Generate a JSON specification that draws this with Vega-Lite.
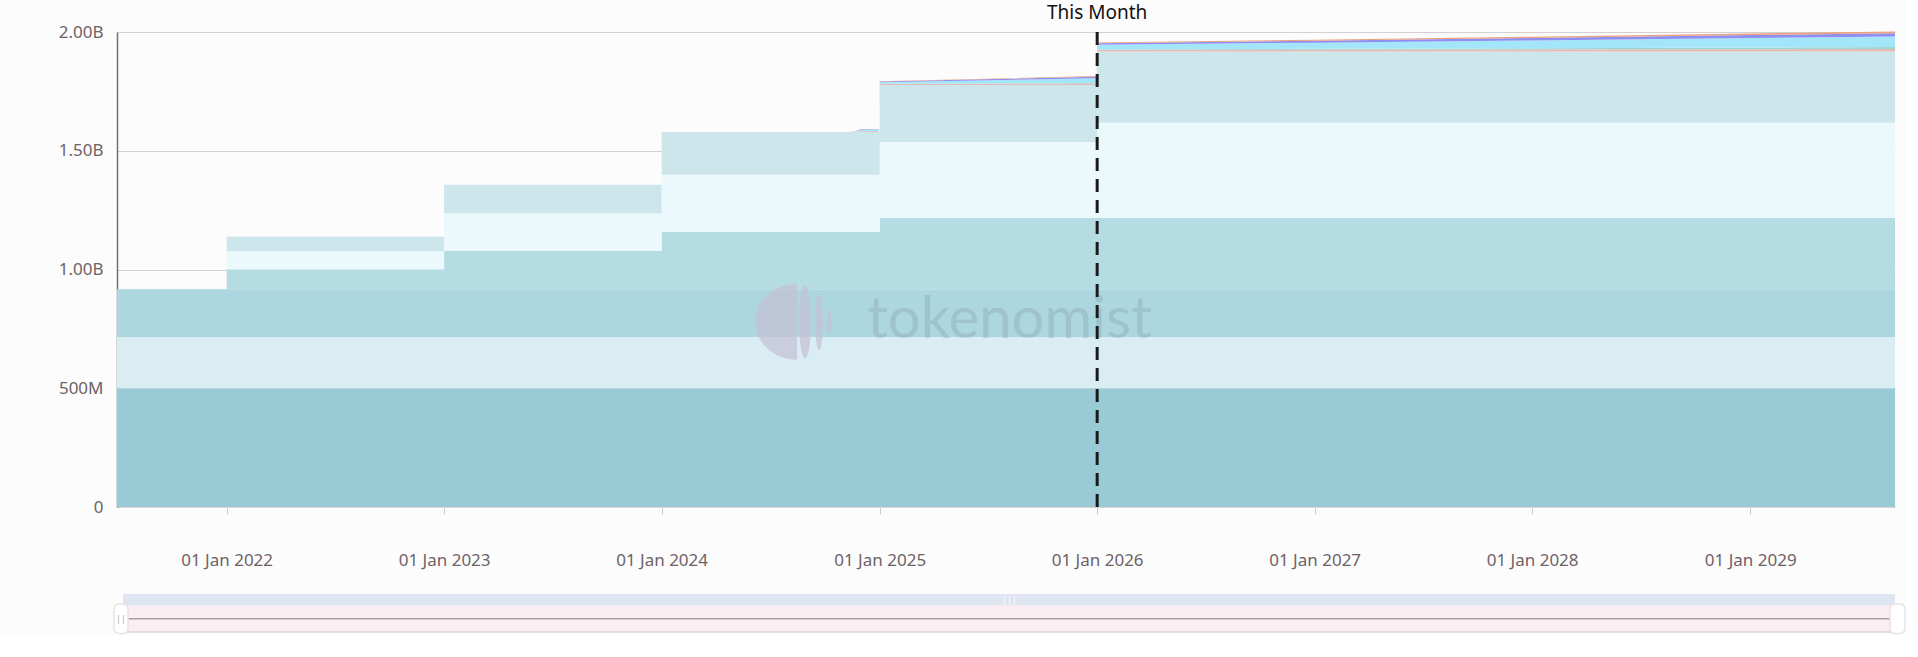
{
  "$schema": "https://vega.github.io/schema/vega-lite/v6.json",
  "background": "#FCFCFC",
  "padding": {"left": 17, "top": 4, "right": 0, "bottom": 0},
  "spacing": 87,
  "bounds": "flush",
  "config": {
    "view": {"stroke": null},
    "font": "Noto Sans",
    "axisX": {
      "labelFont": "Noto Sans", "labelFontSize": 17, "labelColor": "#6E6266",
      "labelExpr": "utcFormat(datum.value, '%d %b %Y')",
      "labelPadding": 38, "tickSize": 7, "tickColor": "#CCCCCC",
      "domainColor": "#D6D6D6", "grid": false, "labelFlush": false, "labelOverlap": false, "zindex": 1
    },
    "axisY": {
      "labelFont": "Noto Sans", "labelFontSize": 17, "labelColor": "#6E6266",
      "labelPadding": 14, "ticks": false,
      "domainColor": "#6E7079", "domainWidth": 1.5,
      "grid": true, "gridColor": "#8C7F88", "gridOpacity": 0.35, "gridWidth": 1,
      "zindex": 1, "minExtent": 100, "maxExtent": 100
    }
  },
  "datasets": {
    "main": [
      {"date": "2021-07-01", "series": "A", "ord": 1, "value": 500},
      {"date": "2022-01-01", "series": "A", "ord": 1, "value": 500},
      {"date": "2023-01-01", "series": "A", "ord": 1, "value": 500},
      {"date": "2024-01-01", "series": "A", "ord": 1, "value": 500},
      {"date": "2025-01-01", "series": "A", "ord": 1, "value": 500},
      {"date": "2026-01-01", "series": "A", "ord": 1, "value": 500},
      {"date": "2029-09-01", "series": "A", "ord": 1, "value": 500},
      {"date": "2021-07-01", "series": "B", "ord": 2, "value": 216},
      {"date": "2022-01-01", "series": "B", "ord": 2, "value": 216},
      {"date": "2023-01-01", "series": "B", "ord": 2, "value": 216},
      {"date": "2024-01-01", "series": "B", "ord": 2, "value": 216},
      {"date": "2025-01-01", "series": "B", "ord": 2, "value": 216},
      {"date": "2026-01-01", "series": "B", "ord": 2, "value": 216},
      {"date": "2029-09-01", "series": "B", "ord": 2, "value": 216},
      {"date": "2021-07-01", "series": "C", "ord": 3, "value": 200.6},
      {"date": "2022-01-01", "series": "C", "ord": 3, "value": 200.6},
      {"date": "2023-01-01", "series": "C", "ord": 3, "value": 200.6},
      {"date": "2024-01-01", "series": "C", "ord": 3, "value": 200.6},
      {"date": "2025-01-01", "series": "C", "ord": 3, "value": 200.6},
      {"date": "2026-01-01", "series": "C", "ord": 3, "value": 200.6},
      {"date": "2029-09-01", "series": "C", "ord": 3, "value": 200.6},
      {"date": "2021-07-01", "series": "D", "ord": 4, "value": 0},
      {"date": "2022-01-01", "series": "D", "ord": 4, "value": 84},
      {"date": "2023-01-01", "series": "D", "ord": 4, "value": 161},
      {"date": "2024-01-01", "series": "D", "ord": 4, "value": 241},
      {"date": "2025-01-01", "series": "D", "ord": 4, "value": 300},
      {"date": "2026-01-01", "series": "D", "ord": 4, "value": 300},
      {"date": "2029-09-01", "series": "D", "ord": 4, "value": 300},
      {"date": "2021-07-01", "series": "E", "ord": 5, "value": 0},
      {"date": "2022-01-01", "series": "E", "ord": 5, "value": 77},
      {"date": "2023-01-01", "series": "E", "ord": 5, "value": 159},
      {"date": "2024-01-01", "series": "E", "ord": 5, "value": 241},
      {"date": "2025-01-01", "series": "E", "ord": 5, "value": 320},
      {"date": "2026-01-01", "series": "E", "ord": 5, "value": 401},
      {"date": "2029-09-01", "series": "E", "ord": 5, "value": 401},
      {"date": "2021-07-01", "series": "F", "ord": 6, "value": 0},
      {"date": "2022-01-01", "series": "F", "ord": 6, "value": 60},
      {"date": "2023-01-01", "series": "F", "ord": 6, "value": 120},
      {"date": "2024-01-01", "series": "F", "ord": 6, "value": 180},
      {"date": "2025-01-01", "series": "F", "ord": 6, "value": 240},
      {"date": "2026-01-01", "series": "F", "ord": 6, "value": 300},
      {"date": "2029-09-01", "series": "F", "ord": 6, "value": 300}
    ],
    "vest": [
      {"date": "2024-11-10", "series": "base", "ord": 0, "value": 1578.6},
      {"date": "2024-11-20", "series": "base", "ord": 0, "value": 1578.6},
      {"date": "2024-12-01", "series": "base", "ord": 0, "value": 1578.6},
      {"date": "2024-12-31", "series": "base", "ord": 0, "value": 1578.6},
      {"date": "2025-01-01", "series": "base", "ord": 0, "value": 1776.6},
      {"date": "2025-12-31", "series": "base", "ord": 0, "value": 1776.6},
      {"date": "2026-01-01", "series": "base", "ord": 0, "value": 1917.6},
      {"date": "2027-01-01", "series": "base", "ord": 0, "value": 1917.6},
      {"date": "2028-01-01", "series": "base", "ord": 0, "value": 1917.6},
      {"date": "2029-01-01", "series": "base", "ord": 0, "value": 1917.6},
      {"date": "2029-09-01", "series": "base", "ord": 0, "value": 1917.6},
      {"date": "2024-11-10", "series": "G", "ord": 1, "value": 0},
      {"date": "2024-11-20", "series": "G", "ord": 1, "value": 2},
      {"date": "2024-12-01", "series": "G", "ord": 1, "value": 4},
      {"date": "2024-12-31", "series": "G", "ord": 1, "value": 4},
      {"date": "2025-01-01", "series": "G", "ord": 1, "value": 4},
      {"date": "2025-12-31", "series": "G", "ord": 1, "value": 7},
      {"date": "2026-01-01", "series": "G", "ord": 1, "value": 7},
      {"date": "2027-01-01", "series": "G", "ord": 1, "value": 8},
      {"date": "2028-01-01", "series": "G", "ord": 1, "value": 9},
      {"date": "2029-01-01", "series": "G", "ord": 1, "value": 10},
      {"date": "2029-09-01", "series": "G", "ord": 1, "value": 11},
      {"date": "2024-11-10", "series": "H", "ord": 2, "value": 0},
      {"date": "2024-11-20", "series": "H", "ord": 2, "value": 0},
      {"date": "2024-12-01", "series": "H", "ord": 2, "value": 1},
      {"date": "2024-12-31", "series": "H", "ord": 2, "value": 1},
      {"date": "2025-01-01", "series": "H", "ord": 2, "value": 1},
      {"date": "2025-12-31", "series": "H", "ord": 2, "value": 2},
      {"date": "2026-01-01", "series": "H", "ord": 2, "value": 2},
      {"date": "2027-01-01", "series": "H", "ord": 2, "value": 3.5},
      {"date": "2028-01-01", "series": "H", "ord": 2, "value": 5},
      {"date": "2029-01-01", "series": "H", "ord": 2, "value": 7},
      {"date": "2029-09-01", "series": "H", "ord": 2, "value": 8},
      {"date": "2024-11-10", "series": "J", "ord": 3, "value": 0},
      {"date": "2024-11-20", "series": "J", "ord": 3, "value": 1},
      {"date": "2024-12-01", "series": "J", "ord": 3, "value": 5},
      {"date": "2024-12-31", "series": "J", "ord": 3, "value": 6},
      {"date": "2025-01-01", "series": "J", "ord": 3, "value": 7},
      {"date": "2025-12-31", "series": "J", "ord": 3, "value": 20},
      {"date": "2026-01-01", "series": "J", "ord": 3, "value": 20},
      {"date": "2027-01-01", "series": "J", "ord": 3, "value": 26},
      {"date": "2028-01-01", "series": "J", "ord": 3, "value": 33},
      {"date": "2029-01-01", "series": "J", "ord": 3, "value": 40},
      {"date": "2029-09-01", "series": "J", "ord": 3, "value": 44},
      {"date": "2024-11-10", "series": "K", "ord": 4, "value": 0},
      {"date": "2024-11-20", "series": "K", "ord": 4, "value": 1},
      {"date": "2024-12-01", "series": "K", "ord": 4, "value": 2},
      {"date": "2024-12-31", "series": "K", "ord": 4, "value": 2},
      {"date": "2025-01-01", "series": "K", "ord": 4, "value": 3},
      {"date": "2025-12-31", "series": "K", "ord": 4, "value": 6},
      {"date": "2026-01-01", "series": "K", "ord": 4, "value": 6},
      {"date": "2027-01-01", "series": "K", "ord": 4, "value": 8},
      {"date": "2028-01-01", "series": "K", "ord": 4, "value": 10},
      {"date": "2029-01-01", "series": "K", "ord": 4, "value": 12.5},
      {"date": "2029-09-01", "series": "K", "ord": 4, "value": 14},
      {"date": "2024-11-10", "series": "L", "ord": 5, "value": 0},
      {"date": "2024-11-20", "series": "L", "ord": 5, "value": 0},
      {"date": "2024-12-01", "series": "L", "ord": 5, "value": 1},
      {"date": "2024-12-31", "series": "L", "ord": 5, "value": 1},
      {"date": "2025-01-01", "series": "L", "ord": 5, "value": 1},
      {"date": "2025-12-31", "series": "L", "ord": 5, "value": 3},
      {"date": "2026-01-01", "series": "L", "ord": 5, "value": 3},
      {"date": "2027-01-01", "series": "L", "ord": 5, "value": 4},
      {"date": "2028-01-01", "series": "L", "ord": 5, "value": 5.5},
      {"date": "2029-01-01", "series": "L", "ord": 5, "value": 7},
      {"date": "2029-09-01", "series": "L", "ord": 5, "value": 8}
    ]
  },
  "vconcat": [
    {
      "width": 1778,
      "height": 475,
      "layer": [
        {
          "data": {"name": "main"},
          "mark": {"type": "area", "interpolate": "step-after"},
          "encoding": {
            "x": {
              "field": "date", "type": "temporal", "title": null,
              "scale": {"type": "utc", "domain": [{"year": 2021, "month": 7, "date": 1, "utc": true}, {"year": 2029, "month": 9, "date": 1, "utc": true}], "nice": false},
              "axis": {
                "title": null,
                "values": [
                  {"year": 2022, "month": 1, "date": 1, "utc": true},
                  {"year": 2023, "month": 1, "date": 1, "utc": true},
                  {"year": 2024, "month": 1, "date": 1, "utc": true},
                  {"year": 2025, "month": 1, "date": 1, "utc": true},
                  {"year": 2026, "month": 1, "date": 1, "utc": true},
                  {"year": 2027, "month": 1, "date": 1, "utc": true},
                  {"year": 2028, "month": 1, "date": 1, "utc": true},
                  {"year": 2029, "month": 1, "date": 1, "utc": true}
                ],
                "labelExpr": "utcFormat(datum.value, '%d %b %Y')"
              }
            },
            "y": {
              "field": "value", "type": "quantitative", "stack": "zero", "title": null,
              "scale": {"domain": [0, 2000], "nice": false},
              "axis": {
                "title": null, "values": [0, 500, 1000, 1500, 2000],
                "labelExpr": "datum.value == 0 ? '0' : datum.value < 1000 ? datum.value + 'M' : format(datum.value / 1000, '.2f') + 'B'"
              }
            },
            "color": {
              "field": "series", "type": "nominal", "legend": null,
              "scale": {
                "domain": ["A", "B", "C", "D", "E", "F", "base", "G", "H", "J", "K", "L"],
                "range": ["#99CBD7", "#D9EDF2", "#ACD7E0", "#B5DBE3", "#EBF9FD", "#CDE6EB", "rgba(0,0,0,0)", "#E6B9B5", "#9FD6D2", "#A3E6F9", "#8F8FF2", "#EBA27F"]
              }
            },
            "order": {"field": "ord", "type": "quantitative"}
          }
        },
        {
          "data": {"name": "vest"},
          "mark": {"type": "area", "interpolate": "linear"},
          "encoding": {
            "x": {"field": "date", "type": "temporal", "title": null, "scale": {"type": "utc", "domain": [{"year": 2021, "month": 7, "date": 1, "utc": true}, {"year": 2029, "month": 9, "date": 1, "utc": true}], "nice": false}},
            "y": {"field": "value", "type": "quantitative", "stack": "zero", "title": null, "scale": {"domain": [0, 2000], "nice": false}},
            "color": {
              "field": "series", "type": "nominal", "legend": null,
              "scale": {
                "domain": ["A", "B", "C", "D", "E", "F", "base", "G", "H", "J", "K", "L"],
                "range": ["#99CBD7", "#D9EDF2", "#ACD7E0", "#B5DBE3", "#EBF9FD", "#CDE6EB", "rgba(0,0,0,0)", "#E6B9B5", "#9FD6D2", "#A3E6F9", "#8F8FF2", "#EBA27F"]
              }
            },
            "order": {"field": "ord", "type": "quantitative"}
          }
        },
        {
          "data": {"values": [{}]},
          "mark": {"type": "text", "text": "tokenomist", "font": "Lato", "fontSize": 58, "align": "left", "baseline": "alphabetic", "color": "#7F95A8", "opacity": 0.3},
          "encoding": {
            "x": {"datum": {"year": 2024, "month": 12, "date": 11, "utc": true}, "type": "temporal", "title": null},
            "y": {"datum": 711, "type": "quantitative", "title": null}
          }
        },
        {
          "data": {"values": [{}]},
          "mark": {
            "type": "point", "filled": true, "size": 5776, "color": "#C4C2D6", "opacity": 0.75,
            "shape": "M 0.1 -1 A 1.1 1 0 0 0 0.1 1 Z M 0.15 0 A 0.16 0.96 0 1 0 0.47 0 A 0.16 0.96 0 1 0 0.15 0 Z M 0.58 0 A 0.1 0.75 0 1 0 0.78 0 A 0.1 0.75 0 1 0 0.58 0 Z M 0.88 0 A 0.06 0.33 0 1 0 1.0 0 A 0.06 0.33 0 1 0 0.88 0 Z"
          },
          "encoding": {
            "x": {"datum": {"year": 2024, "month": 8, "date": 9, "utc": true}, "type": "temporal", "title": null},
            "y": {"datum": 780, "type": "quantitative", "title": null}
          }
        },
        {
          "data": {"values": [{}]},
          "mark": {"type": "rule", "color": "#1B1B1B", "strokeWidth": 3, "strokeDash": [13, 8]},
          "encoding": {
            "x": {"datum": {"year": 2026, "month": 1, "date": 1, "utc": true}, "type": "temporal", "title": null}
          }
        },
        {
          "data": {"values": [{}]},
          "mark": {"type": "text", "text": "This Month", "font": "Noto Sans", "fontSize": 19, "align": "center", "baseline": "alphabetic", "dy": -13, "color": "#111111"},
          "encoding": {
            "x": {"datum": {"year": 2026, "month": 1, "date": 1, "utc": true}, "type": "temporal", "title": null},
            "y": {"datum": 2000, "type": "quantitative", "title": null}
          }
        }
      ]
    },
    {
      "width": 1778,
      "height": 38,
      "data": {"values": [{}]},
      "layer": [
        {
          "mark": {"type": "rect", "color": "#FBEEF2"},
          "encoding": {
            "x": {"datum": 0.0034, "type": "quantitative", "scale": {"domain": [0, 1], "nice": false, "zero": false}, "axis": null},
            "x2": {"datum": 1},
            "y": {"datum": 0, "type": "quantitative", "scale": {"domain": [0, 1], "nice": false}, "axis": null},
            "y2": {"datum": 0.695}
          }
        },
        {
          "mark": {"type": "rect", "color": "#DFE5F1"},
          "encoding": {
            "x": {"datum": 0.0034, "type": "quantitative", "scale": {"domain": [0, 1], "nice": false, "zero": false}, "axis": null},
            "x2": {"datum": 1},
            "y": {"datum": 0.695, "type": "quantitative", "scale": {"domain": [0, 1], "nice": false}, "axis": null},
            "y2": {"datum": 1}
          }
        },
        {
          "mark": {"type": "rule", "color": "#A99CA4", "strokeWidth": 1.5},
          "encoding": {
            "x": {"datum": 0.0034, "type": "quantitative", "scale": {"domain": [0, 1], "nice": false, "zero": false}, "axis": null},
            "x2": {"datum": 1},
            "y": {"datum": 0.35, "type": "quantitative", "scale": {"domain": [0, 1], "nice": false}, "axis": null}
          }
        },
        {
          "mark": {"type": "rule", "color": "#DCD3D8", "strokeWidth": 1.5},
          "encoding": {
            "x": {"datum": 0.0034, "type": "quantitative", "scale": {"domain": [0, 1], "nice": false, "zero": false}, "axis": null},
            "x2": {"datum": 1},
            "y": {"datum": 0, "type": "quantitative", "scale": {"domain": [0, 1], "nice": false}, "axis": null}
          }
        },
        {
          "mark": {"type": "rect", "fill": "#FFFFFF", "stroke": "#E8E2E5", "strokeWidth": 1.5, "cornerRadius": 5},
          "encoding": {
            "x": {"datum": -0.0017, "type": "quantitative", "scale": {"domain": [0, 1], "nice": false, "zero": false}, "axis": null},
            "x2": {"datum": 0.0062},
            "y": {"datum": -0.04, "type": "quantitative", "scale": {"domain": [0, 1], "nice": false}, "axis": null},
            "y2": {"datum": 0.74}
          }
        },
        {
          "mark": {"type": "rect", "fill": "#FFFFFF", "stroke": "#E8E2E5", "strokeWidth": 1.5, "cornerRadius": 5},
          "encoding": {
            "x": {"datum": 0.9972, "type": "quantitative", "scale": {"domain": [0, 1], "nice": false, "zero": false}, "axis": null},
            "x2": {"datum": 1.0056},
            "y": {"datum": -0.04, "type": "quantitative", "scale": {"domain": [0, 1], "nice": false}, "axis": null},
            "y2": {"datum": 0.74}
          }
        },
        {
          "mark": {"type": "text", "text": "|||", "color": "#FFFFFF", "fontSize": 9, "font": "Noto Sans"},
          "encoding": {
            "x": {"datum": 0.502, "type": "quantitative", "scale": {"domain": [0, 1], "nice": false, "zero": false}, "axis": null},
            "y": {"datum": 0.85, "type": "quantitative", "scale": {"domain": [0, 1], "nice": false}, "axis": null}
          }
        },
        {
          "mark": {"type": "text", "text": "||", "color": "#AFA6AB", "fontSize": 9, "font": "Noto Sans"},
          "encoding": {
            "x": {"datum": 0.0022, "type": "quantitative", "scale": {"domain": [0, 1], "nice": false, "zero": false}, "axis": null},
            "y": {"datum": 0.35, "type": "quantitative", "scale": {"domain": [0, 1], "nice": false}, "axis": null}
          }
        }
      ]
    }
  ]
}
